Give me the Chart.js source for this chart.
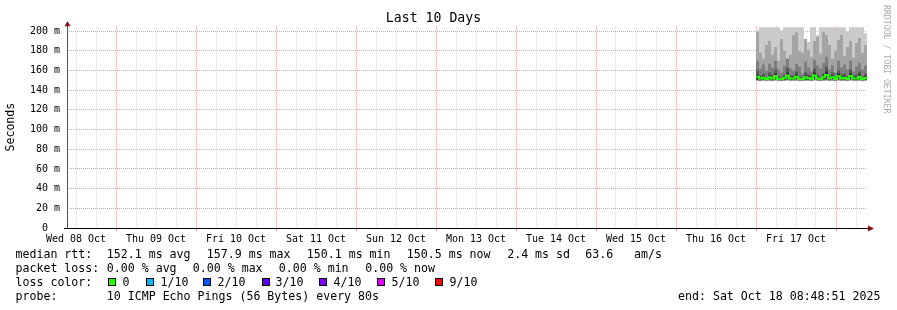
<!DOCTYPE html>
<html>
<head>
<meta charset="utf-8">
<script src="https://cdn.jsdelivr.net/npm/chart.js@4.4.1/dist/chart.umd.min.js"></script>
<style>
  html,body{margin:0;padding:0;background:#fff;}
  #wrap{position:relative;width:897px;height:310px;overflow:hidden;}
  #chart{position:absolute;left:0;top:0;}
  .t{position:absolute;font-family:"DejaVu Sans Mono",monospace;font-size:11.6px;line-height:14px;color:#000;white-space:pre;}
  .box{position:absolute;width:6px;height:6px;border:1px solid #000;}
</style>
</head>
<body>
<div id="wrap">
  <canvas id="chart" width="897" height="310"></canvas>
  <div id="legend"></div>
</div>
<script>
// hours since Wed 08 Oct 00:00, one column per step (last entry closes the final step)
const hours = [216.0,216.9,217.8,218.7,219.6,220.5,221.4,222.3,223.2,224.1,225.0,225.9,226.8,227.7,228.6,229.5,230.4,231.3,232.2,233.1,
               234.0,234.9,235.8,236.7,237.6,238.5,239.4,240.3,241.2,242.1,243.0,243.9,244.8,245.7,246.6,247.5,248.4,249.3];

// sorted pings (ms), ping01 = fastest ... ping10 = slowest
const ping01 = [149.2,149.0,149.4,149.1,149.3,149.0,149.5,149.1,149.0,149.3,149.6,149.1,149.2,149.4,149.0,149.1,149.3,149.2,149.0,149.6,149.2,149.0,149.3,149.5,149.1,149.3,149.0,149.4,149.1,149.2,149.0,149.5,149.2,149.1,149.4,149.0,149.2,149.2];
const ping02 = [149.6,149.4,149.8,149.5,149.7,149.4,149.9,149.5,149.4,149.7,150.0,149.5,149.6,149.8,149.4,149.5,149.7,149.6,149.4,150.0,149.6,149.4,149.7,149.9,149.5,149.7,149.4,149.8,149.5,149.6,149.4,149.9,149.6,149.5,149.8,149.4,149.6,149.6];
const ping03 = [150.0,149.8,150.2,149.9,150.1,149.8,150.4,149.9,149.8,150.1,150.5,149.9,150.0,150.2,149.8,149.9,150.1,150.0,149.8,150.5,150.0,149.8,150.1,150.4,149.9,150.1,149.8,150.3,149.9,150.0,149.8,150.4,150.0,149.9,150.2,149.8,150.0,150.0];
const ping04 = [150.5,150.2,150.7,150.3,150.6,150.2,151.0,150.3,150.2,150.6,151.2,150.3,150.5,150.8,150.2,150.3,150.6,150.5,150.2,151.2,150.5,150.2,150.6,151.0,150.3,150.6,150.2,150.9,150.3,150.5,150.2,151.0,150.5,150.3,150.8,150.2,150.5,150.5];
const ping05 = [151.2,150.7,151.3,150.8,151.2,150.7,151.8,150.8,150.7,151.2,152.0,150.8,151.1,151.5,150.7,150.8,151.2,151.1,150.7,152.0,151.1,150.7,151.3,151.8,150.8,151.3,150.7,151.6,150.8,151.1,150.7,151.8,151.1,150.8,151.5,150.7,151.1,151.1];
const ping06 = [156,153,154,152,155,153,157,152,152,154,158,153,153,156,152,152,155,154,152,158,153,152,155,159,153,155,152,157,153,154,152,157,153,153,156,152,154,154];
const ping07 = [160,155,157,154,158,156,161,154,153,156,163,155,155,159,154,153,158,156,155,162,156,154,157,164,155,158,153,160,156,157,154,161,155,156,159,154,157,157];
const ping08 = [170,162,166,160,167,163,170,161,158,165,172,162,160,167,164,157,169,163,159,171,165,162,168,174,161,165,158,170,163,166,161,170,159,164,168,161,165,165];
const ping09 = [199,178,172,186,190,176,184,170,192,180,172,176,196,199,180,178,192,181,174,190,194,177,199,196,186,172,180,191,196,175,184,190,173,188,193,178,186,186];
const ping10 = [201,204,204,204,204,204,204,204,201,204,204,204,204,204,204,204,190,189,204,204,196,204,204,204,204,204,204,204,204,204,200,204,204,204,204,204,198,198];
const median = [153.6,151.8,152.6,151.4,153.1,151.8,154.4,151.4,151.3,152.6,155.0,151.9,152.0,153.7,151.3,151.4,153.1,152.5,151.3,155.0,152.0,151.3,153.1,155.4,151.9,153.1,151.3,154.3,151.9,152.5,151.3,154.4,152.0,151.9,153.7,151.3,152.5,152.5];

const dayLabels = ['Wed 08 Oct','Thu 09 Oct','Fri 10 Oct','Sat 11 Oct','Sun 12 Oct','Mon 13 Oct','Tue 14 Oct','Wed 15 Oct','Thu 16 Oct','Fri 17 Oct'];

const rttStats = ['152.1 ms avg','157.9 ms max','150.1 ms min','150.5 ms now','2.4 ms sd','63.6   am/s'];
const lossStats = ['0.00 % avg','0.00 % max','0.00 % min','0.00 % now'];
const lossLabels = ['0','1/10','2/10','3/10','4/10','5/10','9/10'];
const lossColors = ['#26ff00','#00b8ff','#0059ff','#5e00ff','#7e00ff','#dd00ff','#ff0000'];
const probeText = '10 ICMP Echo Pings (56 Bytes) every 80s';
const endText = 'end: Sat Oct 18 08:48:51 2025';

const RED = 'rgba(255,0,0,0.4)';
const GRAY = 'rgba(110,110,110,0.26)';
const smokeGrays = ['#cacaca','#a4a4a4','#7e7e7e','#585858','#323232'];

Chart.defaults.font.family = '"DejaVu Sans Mono", monospace';

function pts(arr){ return arr.map((v,i) => ({x: hours[i], y: v})); }

const lows = [ping01, ping02, ping03, ping04, ping05];
const highs = [ping10, ping09, ping08, ping07, ping06];

const datasets = [{
  data: pts(median), borderColor: lossColors[0], borderWidth: 2,
  stepped: 'before', pointRadius: 0, fill: false
}];
// inner (darker) bands get lower indexes so they paint on top
for (let k = 4; k >= 0; k--) {
  const idx = datasets.length;
  datasets.push({data: pts(highs[k]), borderWidth: 0, borderColor: 'rgba(0,0,0,0)', pointRadius: 0,
                 stepped: 'before', backgroundColor: smokeGrays[k], fill: idx + 1});
  datasets.push({data: pts(lows[k]), borderWidth: 0, borderColor: 'rgba(0,0,0,0)', pointRadius: 0,
                 stepped: 'before', fill: false});
}

// axes with arrows, day ticks, watermark
const decor = {
  id: 'decor',
  afterDraw(chart){
    const ctx = chart.ctx, a = chart.chartArea, xs = chart.scales.x;
    ctx.save();
    ctx.lineWidth = 1;
    ctx.strokeStyle = RED;
    for (let h = 24; h <= 240; h += 24) {
      const px = Math.round(xs.getPixelForValue(h)) + 0.5;
      ctx.beginPath(); ctx.moveTo(px, a.bottom); ctx.lineTo(px, a.bottom + 3); ctx.stroke();
    }
    ctx.strokeStyle = '#505050';
    ctx.beginPath(); ctx.moveTo(a.left + 0.5, a.bottom); ctx.lineTo(a.left + 0.5, a.top - 2); ctx.stroke();
    ctx.strokeStyle = '#000';
    ctx.beginPath(); ctx.moveTo(a.left - 3, a.bottom + 0.5); ctx.lineTo(a.right + 2, a.bottom + 0.5); ctx.stroke();

    ctx.fillStyle = '#7f1010';
    ctx.beginPath();
    ctx.moveTo(a.left - 2.5, a.top); ctx.lineTo(a.left + 3.5, a.top); ctx.lineTo(a.left + 0.5, a.top - 5);
    ctx.closePath(); ctx.fill();
    ctx.beginPath();
    ctx.moveTo(a.right + 1, a.bottom - 2.5); ctx.lineTo(a.right + 1, a.bottom + 3.5); ctx.lineTo(a.right + 7, a.bottom + 0.5);
    ctx.closePath(); ctx.fill();

    ctx.fillStyle = '#aaaaaa';
    ctx.font = '8.2px "DejaVu Sans Mono"';
    ctx.textBaseline = 'middle';
    ctx.textAlign = 'left';
    ctx.translate(886, 5);
    ctx.rotate(Math.PI / 2);
    ctx.fillText('RRDTOOL / TOBI OETIKER', 0, 0);
    ctx.restore();
  }
};

new Chart(document.getElementById('chart'), {
  type: 'line',
  data: { datasets },
  options: {
    responsive: false, animation: false, devicePixelRatio: 1,
    layout: { padding: { left: 0, right: 30, top: 0, bottom: 0 } },
    plugins: {
      legend: { display: false },
      tooltip: { enabled: false },
      title: { display: true, text: 'Last 10 Days', color: '#000',
               font: { size: 13.2, weight: 'normal' }, padding: { top: 10.4, bottom: 0 } }
    },
    scales: {
      x: {
        type: 'linear', min: 9.3, max: 249.3, z: 1,
        afterBuildTicks: s => { const t = []; for (let h = 12; h <= 246; h += 6) t.push({value: h}); s.ticks = t; },
        afterFit: s => { s.height = 82; },
        grid: { color: c => (c.tick && c.tick.value % 24 === 0) ? RED : GRAY, drawTicks: false },
        border: { display: false, dash: [1, 1] },
        ticks: { autoSkip: false, maxRotation: 0, padding: 5, color: '#000', font: { size: 10 },
                 callback: v => (v - 12) % 24 === 0 ? dayLabels[(v - 12) / 24] : '' }
      },
      y: {
        min: 0, max: 205, z: 1,
        afterBuildTicks: s => { const t = []; for (let v = 0; v <= 200; v += 10) t.push({value: v}); s.ticks = t; },
        afterFit: s => { s.width = 67; },
        grid: { color: c => !c.tick || c.tick.value === 0 ? 'rgba(0,0,0,0)' : (c.tick.value % 20 === 0 ? RED : GRAY), drawTicks: false },
        border: { display: false, dash: [1, 1] },
        ticks: { padding: 7, color: '#000', font: { size: 10 },
                 callback: v => v % 20 ? '' : (v === 0 ? '0  ' : v + ' m') },
        title: { display: true, text: 'Seconds', color: '#000', font: { size: 11.6 }, padding: { top: 4, bottom: 0 } }
      }
    }
  },
  plugins: [decor]
});

// text legend under the graph
const legend = document.getElementById('legend');
function put(x, y, txt){
  const d = document.createElement('div');
  d.className = 't'; d.style.left = x + 'px'; d.style.top = y + 'px'; d.textContent = txt;
  legend.appendChild(d); return d;
}
const rowTop = [247, 261, 275, 289];
const rttX = [106.8, 206.8, 306.8, 406.8, 507.2, 585.2];
const lossX = [106.8, 192.8, 278.8, 365.2];
const boxX = [108, 146, 203, 262, 319, 377, 435];
const labelX = [122.5, 160.5, 217.5, 275.5, 333.5, 391.5, 449.5];

put(15.5, rowTop[0], 'median rtt:');
rttStats.forEach((s, i) => put(rttX[i], rowTop[0], s));
put(15.5, rowTop[1], 'packet loss:');
lossStats.forEach((s, i) => put(lossX[i], rowTop[1], s));
put(15.5, rowTop[2], 'loss color:');
lossLabels.forEach((s, i) => {
  const b = document.createElement('div');
  b.className = 'box'; b.style.left = boxX[i] + 'px'; b.style.top = '278px'; b.style.background = lossColors[i];
  legend.appendChild(b);
  put(labelX[i], rowTop[2], s);
});
put(15.5, rowTop[3], 'probe:');
put(106.8, rowTop[3], probeText);
put(678, rowTop[3], endText);
</script>
</body>
</html>
